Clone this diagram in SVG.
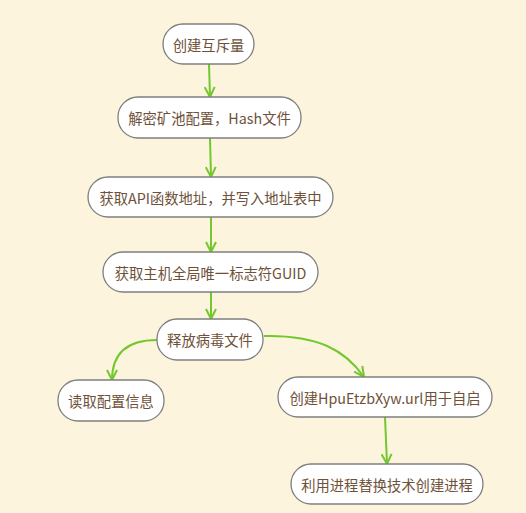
<svg xmlns="http://www.w3.org/2000/svg" width="526" height="513" viewBox="0 0 526 513">
<style>
.n rect{fill:#ffffff;stroke:#7f7f7f;stroke-width:1.3}
.n text{font-family:"Noto Sans CJK SC","Noto Sans",sans-serif;font-size:14.3px;fill:#6e5138;text-anchor:middle;dominant-baseline:central}
.c path{fill:none;stroke:#72c82e;stroke-width:2;marker-end:url(#ah)}
</style>
<defs>
<marker id="ah" viewBox="0 0 12 12" refX="11" refY="6" markerWidth="12" markerHeight="12" markerUnits="userSpaceOnUse" orient="auto">
<path d="M1,1 L11,6 L1,11" fill="none" stroke="#72c82e" stroke-width="2"/>
</marker>
</defs>
<rect width="526" height="513" fill="#fcf4dd"/>
<g class="c">
<path d="M209,64 L210,97"/>
<path d="M210,138 L211,177"/>
<path d="M211,217 L211,252"/>
<path d="M211,292 L211,319"/>
<path d="M157,340 C126,340 112,354 112,380"/>
<path d="M264,336 C318,335 345,350 364,377"/>
<path d="M385,417 L387,464"/>
</g>
<g id="n1" class="n"><rect x="163" y="24" width="91" height="40" rx="20"/><text x="208.5" y="44">创建互斥量</text></g>
<g id="n2" class="n"><rect x="118" y="97" width="183" height="41" rx="20"/><text x="209.5" y="117.5">解密矿池配置，Hash文件</text></g>
<g id="n3" class="n"><rect x="88" y="177" width="245" height="40" rx="20"/><text x="210.5" y="197">获取API函数地址，并写入地址表中</text></g>
<g id="n4" class="n"><rect x="103" y="252" width="215" height="40" rx="20"/><text x="210.5" y="272">获取主机全局唯一标志符GUID</text></g>
<g id="n5" class="n"><rect x="157" y="319" width="106" height="41" rx="20"/><text x="210" y="339.5">释放病毒文件</text></g>
<g id="n6" class="n"><rect x="58" y="380" width="106" height="41" rx="20"/><text x="111" y="400.5">读取配置信息</text></g>
<g id="n7" class="n"><rect x="278" y="377" width="214" height="40" rx="20"/><text x="385" y="397">创建HpuEtzbXyw.url用于自启</text></g>
<g id="n8" class="n"><rect x="291" y="464" width="192" height="40" rx="20"/><text x="387" y="484">利用进程替换技术创建进程</text></g>
</svg>
